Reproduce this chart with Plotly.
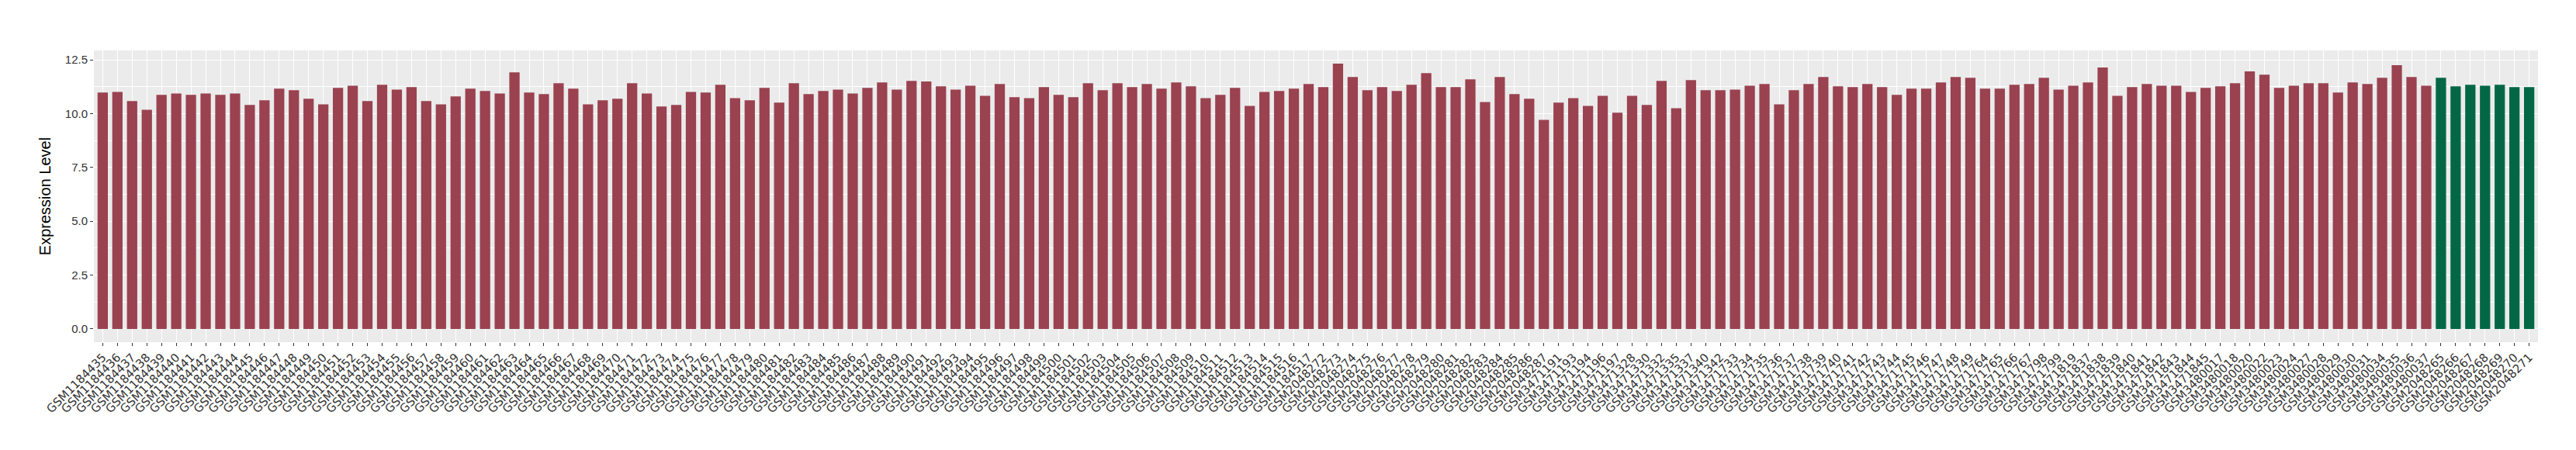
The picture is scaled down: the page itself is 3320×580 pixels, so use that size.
import plotly.graph_objects as go

samples = (
    [f"GSM{n}" for n in range(1184435, 1184518)]
    + [f"GSM{n}" for n in range(2048272, 2048288)]
    + ["GSM3471191", "GSM3471193", "GSM3471194", "GSM3471196", "GSM3471197",
       "GSM3471328", "GSM3471330", "GSM3471332", "GSM3471335", "GSM3471337",
       "GSM3471340", "GSM3471342"]
    + [f"GSM{n}" for n in range(3471733, 3471750)]
    + ["GSM3471764", "GSM3471765", "GSM3471766", "GSM3471767", "GSM3471798",
       "GSM3471799", "GSM3471819", "GSM3471837"]
    + [f"GSM{n}" for n in range(3471838, 3471846)]
    + ["GSM3480017", "GSM3480018", "GSM3480020", "GSM3480022", "GSM3480023",
       "GSM3480024", "GSM3480027", "GSM3480028", "GSM3480029", "GSM3480030",
       "GSM3480031", "GSM3480034", "GSM3480035", "GSM3480036", "GSM3480037"]
    + [f"GSM{n}" for n in range(2048265, 2048272)]
)

expression = [
    10.98, 11.01, 10.58, 10.18, 10.87, 10.94, 10.87, 10.94, 10.87, 10.94,
    10.40, 10.62, 11.16, 11.09, 10.69, 10.43, 11.20, 11.30, 10.58, 11.34,
    11.12, 11.23, 10.58, 10.43, 10.80, 11.16, 11.05, 10.94, 11.92, 10.98,
    10.91, 11.41, 11.16, 10.43, 10.62, 10.69, 11.41, 10.94, 10.33, 10.40,
    11.01, 10.98, 11.34, 10.72, 10.62, 11.20, 10.51, 11.41, 10.91, 11.05,
    11.12, 10.94, 11.20, 11.45, 11.12, 11.52, 11.49, 11.27, 11.12, 11.30,
    10.83, 11.38, 10.76, 10.72, 11.23, 10.87, 10.76, 11.41, 11.09, 11.41,
    11.23, 11.38, 11.16, 11.45, 11.27, 10.72, 10.87, 11.20, 10.36, 11.01,
    11.05, 11.16, 11.38, 11.23, 12.32, 11.70, 11.09, 11.23, 11.05, 11.34,
    11.88, 11.23, 11.23, 11.59, 10.54, 11.70, 10.91, 10.69, 9.71, 10.51,
    10.72, 10.36, 10.83, 10.04, 10.83, 10.40, 11.52, 10.25, 11.56, 11.09,
    11.09, 11.12, 11.30, 11.38, 10.43, 11.09, 11.38, 11.70, 11.27, 11.23,
    11.38, 11.23, 10.87, 11.16, 11.16, 11.45, 11.70, 11.67, 11.16, 11.16,
    11.34, 11.38, 11.67, 11.12, 11.30, 11.45, 12.14, 10.83, 11.23, 11.38,
    11.30, 11.30, 11.01, 11.20, 11.27, 11.41, 11.96, 11.81, 11.20, 11.30,
    11.41, 11.41, 10.98, 11.45, 11.38, 11.67, 12.25, 11.70, 11.30,
    11.67, 11.27, 11.34, 11.30, 11.34, 11.23, 11.23,
]

groups = ["tumor"] * 159 + ["normal"] * 7
group_colors = {"tumor": "#9A4250", "normal": "#036746"}

fig = go.Figure(
    go.Bar(
        x=samples,
        y=expression,
        marker=dict(color=[group_colors[g] for g in groups], line=dict(width=0)),
        showlegend=False,
    )
)

ymax = max(expression)
pad = ymax * 0.05

fig.update_layout(
    width=3320,
    height=580,
    margin=dict(l=113, r=57, t=57, b=147),
    paper_bgcolor="white",
    plot_bgcolor="#EBEBEB",
    bargap=0.3,
    font=dict(family="DejaVu Sans", size=15, color="#4D4D4D"),
)

fig.update_xaxes(
    type="category",
    range=[-0.6, len(samples) - 0.4],
    tickangle=-45,
    tickfont=dict(family="DejaVu Sans", size=15, color="#333333"),
    showgrid=True,
    gridcolor="white",
    gridwidth=1.1,
    ticks="outside",
    ticklen=4,
    tickwidth=1,
    tickcolor="#333333",
    showline=False,
    zeroline=False,
)

fig.update_yaxes(
    range=[-pad, ymax + pad],
    tick0=0,
    dtick=2.5,
    tickformat=".1f",
    tickfont=dict(family="Liberation Sans", size=15, color="#333333"),
    showgrid=True,
    gridcolor="white",
    gridwidth=1.1,
    minor=dict(dtick=1.25, tick0=0, showgrid=True, gridcolor="white", gridwidth=0.55),
    ticks="outside",
    ticklen=4,
    tickwidth=1,
    tickcolor="#333333",
    zeroline=False,
    showline=False,
    title=dict(text="Expression Level", font=dict(family="Liberation Sans", size=20, color="black"), standoff=12),
)

fig.write_html("out.html")
